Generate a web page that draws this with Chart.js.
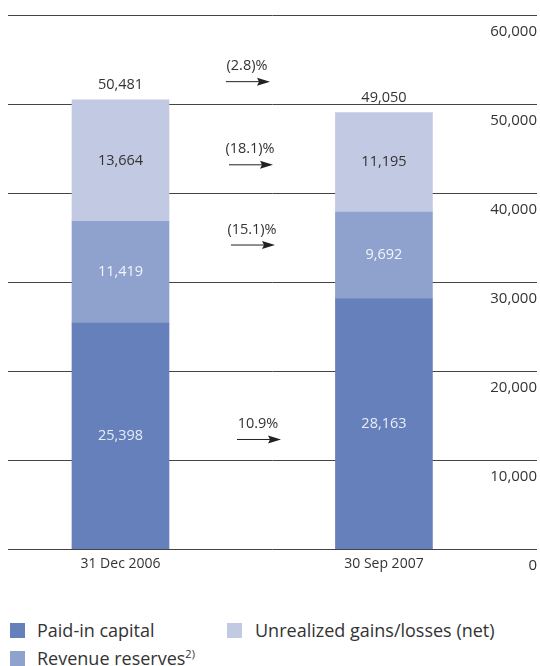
<!DOCTYPE html>
<html>
<head>
<meta charset="utf-8">
<script src="https://cdn.jsdelivr.net/npm/chart.js@4.4.0/dist/chart.umd.min.js"></script>
<style>
  body { margin: 0; background: #fff; font-family: 'Open Sans', sans-serif; }
  #wrap { position: relative; width: 540px; height: 666px; overflow: hidden; }
  #c { position: absolute; left: 0; top: 0; }
  .leg { position: absolute; font-size: 18px; color: #333; line-height: 20px; white-space: nowrap; }
  .leg i { position: absolute; left: -27px; top: 3px; width: 15px; height: 15px; }
  .leg sup { font-size: 11px; line-height: 0; }
</style>
</head>
<body>
<div id="wrap">
  <canvas id="c" width="540" height="600"></canvas>
  <div class="leg" style="left:37px;top:620px"><i style="background:#6580ba"></i>Paid-in capital</div>
  <div class="leg" style="left:37px;top:648px"><i style="background:#8fa2cd"></i>Revenue reserves<sup>2)</sup></div>
  <div class="leg" style="left:255px;top:620px"><i style="background:#c2c9e2;left:-28px"></i>Unrealized gains/losses (net)</div>
</div>
<script>
const dates = ['31 Dec 2006', '30 Sep 2007'];
const paidIn = [25398, 28163];
const revenueReserves = [11419, 9692];
const unrealized = [13664, 11195];
const totals = [50481, 49050];
// change from first to second date: paid-in, revenue, unrealized, total
const changes = ['10.9%', '(15.1)%', '(18.1)%', '(2.8)%'];

const FONT = "'Open Sans', sans-serif";
const fmt = v => v.toLocaleString('en-US');
const pts = arr => arr.map((v, i) => ({x: i, y: v}));

// where the change arrows sit (value on the y scale, x centre in px)
const arrowSpots = [
  {v: 12380, x: 258},
  {v: 34220, x: 252},
  {v: 43230, x: 250},
  {v: 52570, x: 247}
];

const labelPlugin = {
  id: 'labels',
  afterDatasetsDraw(chart) {
    const ctx = chart.ctx;
    ctx.save();
    ctx.font = '14.5px ' + FONT;
    ctx.textAlign = 'center';
    ctx.textBaseline = 'middle';
    chart.data.datasets.forEach((ds, di) => {
      const meta = chart.getDatasetMeta(di);
      meta.data.forEach((bar, i) => {
        ctx.fillStyle = ds.labelColor;
        ctx.fillText(fmt(ds.data[i].y), bar.x, (bar.y + bar.base) / 2);
      });
    });
    // totals above the bars
    const top = chart.getDatasetMeta(chart.data.datasets.length - 1);
    ctx.fillStyle = '#333';
    top.data.forEach((bar, i) => {
      ctx.fillText(fmt(totals[i]), bar.x, bar.y - 15);
    });
    // change arrows
    const ys = chart.scales.y;
    changes.forEach((txt, k) => {
      const s = arrowSpots[k];
      const y = ys.getPixelForValue(s.v);
      ctx.fillStyle = '#333';
      ctx.fillText(txt, s.x, y - 15);
      ctx.strokeStyle = '#222';
      ctx.lineWidth = 1;
      ctx.beginPath();
      ctx.moveTo(s.x - 21, y + 0.5);
      ctx.lineTo(s.x + 14, y + 0.5);
      ctx.stroke();
      ctx.fillStyle = '#222';
      ctx.beginPath();
      ctx.moveTo(s.x + 23, y + 0.5);
      ctx.lineTo(s.x + 10, y - 3.5);
      ctx.lineTo(s.x + 12, y + 0.5);
      ctx.lineTo(s.x + 10, y + 4.5);
      ctx.closePath();
      ctx.fill();
    });
    ctx.restore();
  }
};

new Chart(document.getElementById('c'), {
  type: 'bar',
  data: {
    datasets: [
      {label: 'Paid-in capital', data: pts(paidIn), backgroundColor: '#6580ba', labelColor: '#e8ecf6'},
      {label: 'Revenue reserves', data: pts(revenueReserves), backgroundColor: '#8fa2cd', labelColor: '#f2f4fa'},
      {label: 'Unrealized gains/losses (net)', data: pts(unrealized), backgroundColor: '#c2c9e2', labelColor: '#333'}
    ]
  },
  options: {
    responsive: false,
    animation: false,
    barThickness: 97,
    layout: {padding: {left: 8, right: 3, top: 15, bottom: 22}},
    plugins: {legend: {display: false}, tooltip: {enabled: false}},
    scales: {
      x: {
        type: 'linear',
        stacked: true,
        offset: false,
        bounds: 'data',
        min: -0.427,
        max: 1.581,
        afterBuildTicks: axis => { axis.ticks = dates.map((d, i) => ({value: i})); },
        grid: {display: false, drawTicks: false, offset: false},
        border: {display: false},
        ticks: {
          callback: v => dates[v],
          font: {family: FONT, size: 14},
          color: '#333',
          padding: 6,
          maxRotation: 0
        }
      },
      y: {
        position: 'right',
        stacked: true,
        min: 0,
        max: 60000,
        grid: {color: '#444', lineWidth: 1, drawTicks: false},
        border: {display: false},
        ticks: {
          stepSize: 10000,
          mirror: true,
          padding: 0,
          labelOffset: 17,
          callback: v => fmt(v),
          font: {family: FONT, size: 15},
          color: '#333'
        }
      }
    }
  },
  plugins: [labelPlugin]
});
</script>
</body>
</html>
